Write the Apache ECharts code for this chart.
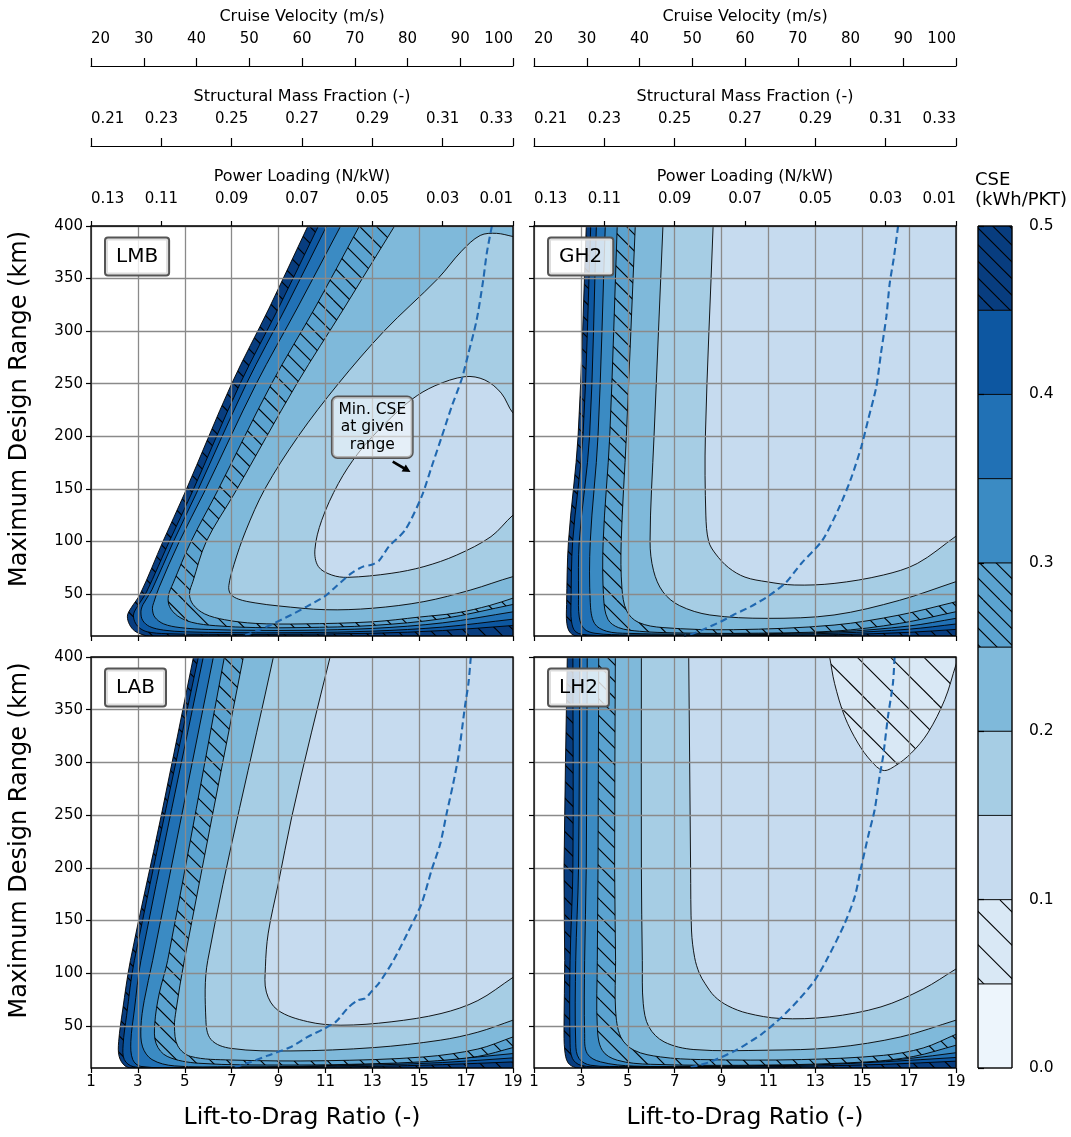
<!DOCTYPE html>
<html><head><meta charset="utf-8">
<script src="https://cdn.jsdelivr.net/npm/echarts@6/dist/echarts.min.js"></script>
<style>html,body{margin:0;padding:0;background:#fff}#c{width:1071px;height:1137px}</style>
</head><body><div id="c"></div>
<script>
// ---------------- tick labels ----------------
const ldTicks = [1,3,5,7,9,11,13,15,17,19];
const rangeTicks = [50,100,150,200,250,300,350,400];
const velocityPos = [1,3.25,5.5,7.75,10,12.25,14.5,16.75,19];
const velocityLabels = ['20','30','40','50','60','70','80','90','100'];
const secondaryPos = [1,4,7,10,13,16,19];
const massFracLabels = ['0.21','0.23','0.25','0.27','0.29','0.31','0.33'];
const powerLoadLabels = ['0.13','0.11','0.09','0.07','0.05','0.03','0.01'];
const panelNames = ['LMB','GH2','LAB','LH2'];
const cseBandLow = [0,0.05,0.1,0.15,0.2,0.25,0.3,0.35,0.4,0.45];
const bandColors = ['#edf5fc','#d9e8f5','#c6dbef','#a6cde4','#7fb9da','#5ba3d0','#3b8bc3','#2171b5','#0d57a1','#083d7f'];
const bandHatch = [0,2,0,0,0,1,0,0,0,1];

// ---------------- contour lines [L/D, range km] ----------------
// LMB
const lmb50 = [[10.25,400],[8.6,322],[7.0,250],[5.0,146],[4.07,100],[3.1,50],[2.72,37],[2.56,30],[2.6,23],[2.8,16],[3.1,12],[3.6,9.3],[5,8],[19.5,8]];
const lmb45 = [[10.7,400],[9.0,322],[7.36,250],[5.3,146],[4.34,100],[3.37,52],[2.98,38],[2.82,31],[2.86,24],[3.05,18],[3.4,14],[4.2,12.2],[6,11.6],[9,11.6],[13,12.6],[16,15.2],[19,20]];
const lmb40 = [[11.05,400],[9.3,322],[7.63,250],[5.5,146],[4.52,100],[3.6,54],[3.22,40],[3.13,33],[3.2,25],[3.5,19],[4.1,15.6],[5,14],[7,13.2],[10,13.2],[13,14.6],[16,18.5],[19,26]];
const lmb35 = [[11.65,400],[9.8,322],[8.05,250],[5.81,146],[4.77,100],[3.9,56],[3.68,42],[3.62,36],[3.72,28],[4.1,21.5],[4.8,18],[6,16.2],[8,15.4],[10,15.4],[13,17.2],[16,22.5],[19,33]];
const lmb30 = [[12.45,400],[10.55,322],[8.7,250],[6.35,146],[5.27,100],[4.5,60],[4.3,48],[4.35,38],[4.7,29],[5.3,23],[6.3,19.8],[8,18],[10,18],[13,20],[16,26.5],[19,40]];
const lmb25 = [[13.95,400],[11.8,322],[9.78,250],[7.13,146],[5.92,100],[5.35,62],[5.2,50],[5.35,40],[5.85,31],[6.7,25.5],[8,22],[10,21.5],[13,23.5],[15,28],[16.6,32],[18,39],[19,46]];
const lmb20 = [[19.5,388],[19,390],[18.3,393],[17.6,391],[16.8,376],[15.8,350],[13.5,300],[11.55,250],[9.84,200],[8.42,150],[7.6,110],[7.1,78],[6.88,58],[6.95,50],[7.3,45],[8,41.5],[9,38.6],[11,35],[13,36.4],[15.2,42.7],[17.2,53.8],[19,66.5],[19.5,68]];
const lmb15 = [[19.5,214],[19,222],[18.5,241],[17.8,253.5],[16.95,256.7],[15.67,248],[14.68,235],[13.54,212],[12.4,184],[11.55,155],[10.84,120],[10.55,92],[10.7,76],[11.27,68],[11.95,65.8],[13.8,69.6],[15.2,76],[16.6,87],[18.06,104.5],[19,125],[19.5,132]];
const lmbMin = [[18.1,400],[17.88,374],[17.73,348.6],[17.45,310.6],[17.1,279],[16.8,253.5],[16.38,228],[15.96,199.6],[15.53,171],[15.1,142.5],[14.4,110.8],[13.7,95],[13.3,82],[13.0,78],[12.6,76],[12.1,69.6],[11.5,58],[10.95,47.4],[10.2,38],[9.53,30],[8.7,21],[7.82,12.6],[7.5,10]];
// GH2
const gh50 = [[3.23,400],[2.88,200],[2.47,100],[2.39,40],[2.4,22],[2.55,13],[2.9,9.5],[4,8],[19.5,8]];
const gh45 = [[3.42,400],[3.09,200],[2.65,100],[2.58,42],[2.6,24],[2.78,14],[3.3,11],[5,10.2],[10,10.3],[14,11.3],[17,13.5],[19,16.3]];
const gh40 = [[3.66,400],[3.37,200],[2.93,100],[2.9,50],[2.93,28],[3.13,17],[3.6,12.6],[5,11],[10,11.2],[14,12.8],[17,16.5],[19,21.4]];
const gh35 = [[4.04,400],[3.73,200],[3.4,100],[3.4,42],[3.58,22],[4.1,14.5],[5,12.5],[7,11.8],[10,12],[14,14],[17,19.5],[19,26.8]];
const gh30 = [[4.55,400],[4.23,200],[3.95,100],[3.97,46],[4.15,26],[4.6,18],[5.5,14.5],[7,13],[9.5,12.5],[13.8,14.6],[16.6,22],[19,33.1]];
const gh25 = [[5.32,400],[4.94,200],[4.72,100],[4.75,56],[4.95,34],[5.45,23],[6.5,18],[9.5,16],[13.8,20.4],[16.6,30],[19,42.6]];
const gh20 = [[6.5,400],[6.12,200],[5.95,100],[6.1,72],[6.5,52],[7.2,39],[8.5,30],[10.95,26.8],[13.8,30],[16.6,44],[19,61.7]];
const gh15 = [[8.64,400],[8.31,200],[8.33,125],[8.45,100],[8.75,88],[9.3,75],[10,66],[10.95,61.5],[12.1,58.5],[13.8,60],[15.9,68],[17.35,79],[19,105]];
const ghMin = [[16.53,400],[16.35,370],[16.17,345],[16.03,314],[15.8,279],[15.6,247],[15.25,215.5],[14.96,190],[14.5,158.4],[13.97,130],[13.3,101],[12.4,79],[11.75,61],[11.0,48],[10.24,38],[9.5,30],[8.96,23.6],[8.3,17],[7.82,12.5],[7.4,10]];
// LAB
const lab50 = [[5.37,400],[4.0,250],[2.68,112],[2.35,65],[2.18,35],[2.2,21],[2.45,12],[2.85,9.4],[4,8],[19.5,8]];
const lab45 = [[5.58,400],[2.85,112],[2.52,60],[2.37,32],[2.42,18],[2.8,11.3],[4,9.9],[8,10.1],[13,11.5],[16,13.2],[19,15.8]];
const lab40 = [[5.79,400],[3.13,112],[2.85,65],[2.7,35],[2.78,18],[3.13,11.5],[5,10.6],[9,11],[13,12.8],[16,15.2],[19,19.6]];
const lab35 = [[6.22,400],[3.63,112],[3.27,74],[3.13,49],[3.2,30],[3.6,18],[4.55,12],[7,11.2],[10,11.6],[13,14],[16,17.6],[19,23.7]];
const lab30 = [[6.69,400],[4.27,112],[3.91,80.7],[3.72,52],[3.78,33],[4.25,21],[5.6,14.5],[9.53,12.8],[13,14],[15.2,16],[17.5,21],[19,29.4]];
const lab25 = [[7.5,400],[4.98,112],[4.63,65],[4.56,49],[4.7,31],[5.25,21],[6.97,17.6],[10.95,16.9],[15.2,20.5],[17.5,28],[19,39.5]];
const lab20 = [[8.78,400],[5.98,112],[5.9,56],[6.12,37],[6.97,28.6],[9.53,26.2],[13.08,29.4],[15.9,36.4],[17.5,44],[19,55.4]];
const lab15 = [[11.2,400],[10.4,328],[9.56,248],[8.99,185],[8.56,138],[8.44,106],[8.48,82],[8.96,65],[10.24,54],[11.66,50.6],[13.8,53.8],[15.93,61.7],[17.5,74],[19,96]];
const labMin = [[17.2,400],[17.1,375],[16.95,353],[16.67,305.6],[16.45,280],[16.17,251.6],[15.9,223],[15.53,198],[15.1,166],[14.5,138],[13.9,112],[13.3,91],[12.94,82],[12.7,76],[12.4,74.4],[12.0,68],[11.45,54],[10.95,47.4],[10.2,39],[9.53,30],[8.5,21.5],[7.82,15.8],[7.1,10.4],[7.0,10]];
// LH2
const lh50 = [[2.42,400],[2.28,200],[2.31,112],[2.28,49],[2.31,27],[2.45,15],[2.8,10.2],[3.5,8.5],[5,8],[19.5,8]];
const lh45 = [[2.66,400],[2.66,200],[2.54,112],[2.54,33],[2.64,19],[2.99,12.6],[4,10.8],[8,10.5],[12,11.5],[16,13.5],[19,16.5]];
const lh40 = [[2.95,400],[2.9,200],[2.78,112],[2.78,33],[2.92,19],[3.42,12.6],[5,11.5],[9,11.5],[13,13],[16,16],[19,20]];
const lh35 = [[3.27,400],[3.23,200],[3.16,112],[3.16,42.7],[3.27,23.7],[3.84,15.8],[5.27,11.8],[8,11.8],[12,12.8],[15,15.5],[17,19],[19,24.5]];
const lh30 = [[3.76,400],[3.73,200],[3.7,112],[3.7,49],[3.91,26.8],[4.55,17.4],[5.98,13.5],[10.95,12.8],[15.2,15.8],[17.2,21],[19,31.6]];
const lh25 = [[4.47,400],[4.44,200],[4.48,112],[4.48,65],[4.7,39.5],[5.27,26.8],[6.4,20.5],[8.1,18],[12.4,18],[15.9,22],[17.6,29],[19,42]];
const lh20 = [[5.58,400],[5.58,200],[5.62,112],[5.66,71],[5.9,49],[6.55,34.8],[7.82,27.5],[10.95,26.9],[13.8,29.4],[16.64,39.5],[19,55.4]];
const lh15 = [[7.6,400],[7.68,200],[7.72,140],[7.85,115],[8.05,100],[8.3,90],[8.7,78],[9.27,69],[10.1,62],[11.5,57],[13.6,58.5],[15.8,68],[17.6,85],[19,104]];
const lh10 = [[13.55,406],[13.61,400],[13.82,375],[14.25,343.6],[14.82,318.3],[15.39,301],[15.89,292.4],[16.38,296.3],[17.1,309],[17.8,328],[18.52,359.5],[19,392.8],[19.2,406]];
const lhMin = [[16.38,400],[16.31,375],[16.1,343.6],[15.89,305.6],[15.74,286.6],[15.53,255],[15.25,229.6],[14.96,201],[14.68,172.4],[14.25,147],[13.54,115],[12.97,93],[12.26,74],[11.55,58],[10.7,42],[9.56,26.2],[8.42,15.1],[7.57,10]];

const panelContours = [
  [[0.5,lmb50],[0.45,lmb45],[0.4,lmb40],[0.35,lmb35],[0.3,lmb30],[0.25,lmb25],[0.2,lmb20],[0.15,lmb15]],
  [[0.5,gh50],[0.45,gh45],[0.4,gh40],[0.35,gh35],[0.3,gh30],[0.25,gh25],[0.2,gh20],[0.15,gh15]],
  [[0.5,lab50],[0.45,lab45],[0.4,lab40],[0.35,lab35],[0.3,lab30],[0.25,lab25],[0.2,lab20],[0.15,lab15]],
  [[0.5,lh50],[0.45,lh45],[0.4,lh40],[0.35,lh35],[0.3,lh30],[0.25,lh25],[0.2,lh20],[0.15,lh15],[0.1,lh10]]
];
const panelMin = [lmbMin, ghMin, labMin, lhMin];

// ---------------- layout ----------------
const FONT = 'DejaVu Sans';
const grids = [
  {left: 91, top: 226, width: 422, height: 410},
  {left: 534, top: 226, width: 422, height: 410},
  {left: 91, top: 657, width: 422, height: 411},
  {left: 534, top: 657, width: 422, height: 411},
  {left: 978, top: 226, width: 34, height: 842}
];

function hatch(bg, spacing) {
  const s = 100, c = document.createElement('canvas');
  c.width = s; c.height = s;
  const g = c.getContext('2d');
  g.fillStyle = bg; g.fillRect(0, 0, s, s);
  g.strokeStyle = '#000'; g.lineWidth = 1.1;
  const n = Math.round(s / spacing);
  for (let k = -n; k <= n; k++) {
    const x0 = k * spacing;
    g.beginPath(); g.moveTo(x0, 0); g.lineTo(x0 + s, s); g.stroke();
  }
  return {image: c, repeat: 'repeat'};
}
const fills = bandColors.map((c, i) => bandHatch[i] === 1 ? hatch(c, 100 / 6) : bandHatch[i] === 2 ? hatch(c, 100 / 3) : c);

// smooth open curve through pixel points (cubic segments, tangent-limited)
function smoothPath(P) {
  const unit = (a, b) => { const dx = b[0] - a[0], dy = b[1] - a[1], l = Math.hypot(dx, dy) || 1; return [dx / l, dy / l]; };
  const dirs = P.map((p, i) => unit(P[Math.max(0, i - 1)], P[Math.min(P.length - 1, i + 1)]));
  let d = 'M' + P[0][0] + ',' + P[0][1];
  for (let i = 0; i < P.length - 1; i++) {
    const a = P[i], b = P[i + 1], L = Math.hypot(b[0] - a[0], b[1] - a[1]) / 3;
    const c1 = [a[0] + dirs[i][0] * L, a[1] + dirs[i][1] * L];
    const c2 = [b[0] - dirs[i + 1][0] * L, b[1] - dirs[i + 1][1] * L];
    d += ' C' + c1[0] + ',' + c1[1] + ' ' + c2[0] + ',' + c2[1] + ' ' + b[0] + ',' + b[1];
  }
  return d;
}

let zc = 0;
function contourSeries(gi, level, pts) {
  const idx = Math.round(level / 0.05) - 1;
  const first = pts[0], last = pts[pts.length - 1];
  const closeTopRight = first[1] >= 400 && last[1] < 400;
  const z2 = zc++;
  return {
    type: 'custom', xAxisIndex: gi, yAxisIndex: gi, silent: true, z: 2,
    data: pts, encode: {x: 0, y: 1},
    renderItem(params, api) {
      if (params.dataIndex !== 0) return null;
      const cs = params.coordSys;
      const P = pts.map(p => api.coord(p));
      let d = smoothPath(P);
      if (closeTopRight) {
        const e1 = api.coord([27, last[1]]), e2 = api.coord([27, 470]), e3 = api.coord([first[0], 470]);
        d += ' L' + e1[0] + ',' + e1[1] + ' L' + e2[0] + ',' + e2[1] + ' L' + e3[0] + ',' + e3[1];
      }
      d += ' Z';
      return {
        type: 'path', z2: z2,
        shape: {pathData: d},
        style: {fill: fills[idx], stroke: '#000', lineWidth: 0.9},
        clipPath: {type: 'rect', shape: {x: cs.x, y: cs.y, width: cs.width, height: cs.height}}
      };
    }
  };
}

const tickStyle = {color: '#000', width: 1.2};
const gridLine = {show: true, lineStyle: {color: '#8a8a8a', width: 1.3}};
const xAxes = [], yAxes = [], series = [];

for (let gi = 0; gi < 4; gi++) {
  const bottom = gi >= 2, left = gi % 2 === 0;
  xAxes.push({type: 'value', gridIndex: gi, min: 1, max: 19, position: 'bottom', z: 3,
    axisLine: {show: false},
    axisTick: {show: true, customValues: ldTicks, length: 5, lineStyle: tickStyle},
    axisLabel: {show: bottom, customValues: ldTicks, fontSize: 15, color: '#000', margin: 7, fontFamily: FONT},
    splitLine: gridLine,
    name: bottom ? 'Lift-to-Drag Ratio (-)' : '', nameLocation: 'middle', nameGap: 38,
    nameTextStyle: {fontSize: 23.5, color: '#000', fontFamily: FONT}});
  yAxes.push({type: 'value', gridIndex: gi, min: 10, max: 400, position: 'left', z: 3,
    axisLine: {show: false},
    axisTick: {show: true, customValues: rangeTicks, length: 5, lineStyle: tickStyle},
    axisLabel: {show: left, customValues: rangeTicks, fontSize: 15, color: '#000', margin: 8, fontFamily: FONT},
    splitLine: gridLine});
}
function topAxis(gi, offset, pos, labels, name, tickLen, showLine, gap) {
  return {type: 'value', gridIndex: gi, min: 1, max: 19, position: 'top', offset: offset, z: 3,
    axisLine: {show: showLine, lineStyle: tickStyle},
    axisTick: {show: true, customValues: pos, length: tickLen, lineStyle: tickStyle},
    axisLabel: {show: true, customValues: pos, fontSize: 15, color: '#000', margin: 19, fontFamily: FONT,
      alignMinLabel: 'left', alignMaxLabel: 'right',
      formatter: v => { const i = pos.findIndex(p => Math.abs(p - v) < 1e-6); return i >= 0 ? labels[i] : ''; }},
    splitLine: {show: false},
    name: name, nameLocation: 'middle', nameGap: gap,
    nameTextStyle: {fontSize: 16, color: '#000', fontFamily: FONT}};
}
for (const gi of [0, 1]) {
  xAxes.push(topAxis(gi, 0, secondaryPos, powerLoadLabels, 'Power Loading (N/kW)', 5, false, 41));
  xAxes.push(topAxis(gi, 80, secondaryPos, massFracLabels, 'Structural Mass Fraction (-)', 8, true, 41));
  xAxes.push(topAxis(gi, 160, velocityPos, velocityLabels, 'Cruise Velocity (m/s)', 8, true, 41));
}
// colorbar axes
xAxes.push({type: 'value', gridIndex: 4, min: 0, max: 1, show: false});
const cbX = xAxes.length - 1;
yAxes.push({type: 'value', gridIndex: 4, min: 0, max: 0.5, interval: 0.1, position: 'right', z: 3,
  axisLine: {show: false},
  axisTick: {show: true, length: 6, lineStyle: tickStyle},
  axisLabel: {fontSize: 15.5, color: '#000', margin: 17, fontFamily: FONT, formatter: v => v.toFixed(1)},
  splitLine: {show: false}});
const cbY = yAxes.length - 1;

for (let gi = 0; gi < 4; gi++) {
  for (const [lvl, pts] of panelContours[gi]) series.push(contourSeries(gi, lvl, pts));
  series.push({type: 'line', xAxisIndex: gi, yAxisIndex: gi, data: panelMin[gi], symbol: 'none', smooth: 0.25,
    silent: true, z: 4, lineStyle: {color: '#2068b0', width: 2.1, type: [7, 4]}});
}
series.push({
  type: 'custom', xAxisIndex: cbX, yAxisIndex: cbY, silent: true, z: 2,
  data: cseBandLow.map((v, i) => [i, v]), encode: {x: 0, y: 1},
  renderItem(params, api) {
    const i = api.value(0), lo = api.value(1);
    const p1 = api.coord([0, lo + 0.05]), p2 = api.coord([1, lo]);
    return {type: 'rect', shape: {x: p1[0], y: p1[1], width: p2[0] - p1[0], height: p2[1] - p1[1]},
      style: {fill: fills[i], stroke: '#000', lineWidth: 0.8}};
  }
});

// ---------------- annotations ----------------
const graphic = [];
grids.slice(0, 4).forEach((g, i) => {
  graphic.push({type: 'rect', z: 50, silent: true, shape: {x: g.left, y: g.top, width: g.width, height: g.height},
    style: {fill: 'none', stroke: '#000', lineWidth: 1.3}});
  graphic.push({type: 'text', z: 60, x: g.left + 15, y: g.top + 12.5, silent: true,
    style: {text: panelNames[i], font: '20px "DejaVu Sans"', fill: '#000', lineHeight: 22,
      backgroundColor: 'rgba(255,255,255,0.8)', borderColor: '#555', borderWidth: 2, borderRadius: 2,
      padding: [7, 10, 7, 10], align: 'left', verticalAlign: 'top'}});
  if (i % 2 === 0) {
    graphic.push({type: 'text', z: 60, x: 20, y: g.top + g.height / 2 - 22, rotation: Math.PI / 2, silent: true,
      style: {text: 'Maximum Design Range (km)', font: '24px "DejaVu Sans"', fill: '#000', align: 'center', verticalAlign: 'middle'}});
  }
});
graphic.push({type: 'rect', z: 50, silent: true, shape: {x: 978, y: 226, width: 34, height: 842},
  style: {fill: 'none', stroke: '#000', lineWidth: 1}});
graphic.push({type: 'text', z: 60, x: 975, y: 170, silent: true,
  style: {text: 'CSE\n(kWh/PKT)', font: '18px "DejaVu Sans"', fill: '#000', lineHeight: 20, align: 'left', verticalAlign: 'top'}});
graphic.push({type: 'text', z: 60, x: 372.3, y: 397, silent: true,
  style: {text: 'Min. CSE\nat given\nrange', font: '15.5px "DejaVu Sans"', fill: '#000', lineHeight: 17.5,
    align: 'center', verticalAlign: 'top', backgroundColor: 'rgba(255,255,255,0.55)', borderColor: '#555',
    borderWidth: 1.5, borderRadius: 5, padding: [4, 6, 4, 6]}});
graphic.push({type: 'line', z: 60, silent: true, shape: {x1: 392.7, y1: 461.7, x2: 404.5, y2: 468.5},
  style: {stroke: '#000', lineWidth: 2.6}});
graphic.push({type: 'polygon', z: 60, silent: true, shape: {points: [[410.5, 472], [401.6, 471.6], [405.8, 464.4]]},
  style: {fill: '#000'}});

const chart = echarts.init(document.getElementById('c'), null, {renderer: 'canvas'});
chart.setOption({
  animation: false,
  backgroundColor: '#fff',
  textStyle: {fontFamily: FONT},
  grid: grids,
  xAxis: xAxes,
  yAxis: yAxes,
  series: series,
  graphic: graphic
});
</script></body></html>
